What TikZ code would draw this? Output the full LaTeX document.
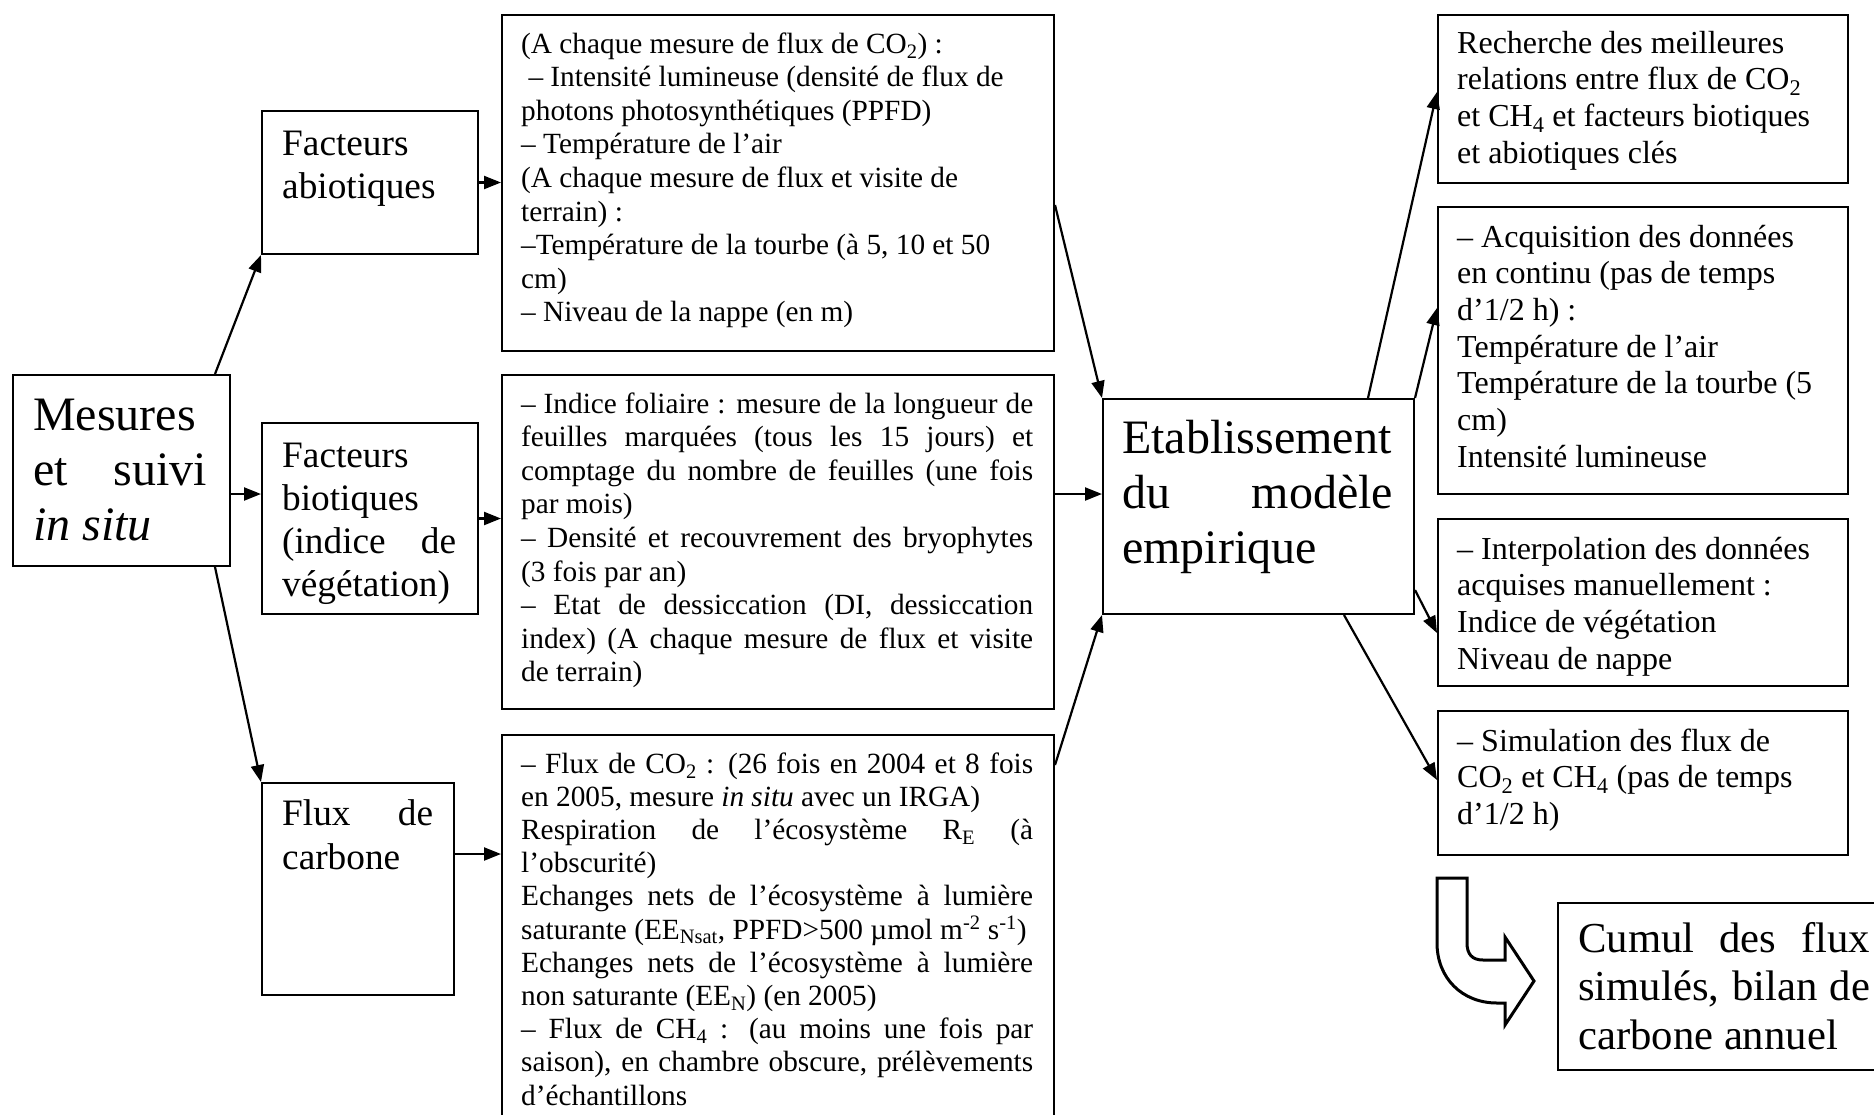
\documentclass[tikz,border=0pt]{standalone}
\usepackage{fontspec}
\setmainfont{Liberation Serif}
\usetikzlibrary{arrows.meta}
\newcommand\J[1]{\makebox[\linewidth][s]{#1}}
\newcommand\fs[2]{\fontsize{#1pt}{#2pt}\selectfont}
\begin{document}
\begin{tikzpicture}[x=1pt,y=-1pt,
  box/.style={draw, line width=2pt, inner sep=0pt, anchor=north west, rectangle},
  txt/.style={inner sep=0pt, anchor=base west},
  arr/.style={line width=2.2pt, -{Triangle[length=17pt,width=13pt]}}]
\useasboundingbox (0,0) rectangle (1874,1114);
\fill[white] (0,0) rectangle (1874,1114);

% boxes
\node[box, minimum width=217pt, minimum height=191pt] (mes) at (12,374) {};
\node[box, minimum width=216pt, minimum height=143pt] (fab) at (261,110) {};
\node[box, minimum width=216pt, minimum height=191pt] (fbio) at (261,422) {};
\node[box, minimum width=192pt, minimum height=212pt] (fcarb) at (261,782) {};
\node[box, minimum width=552pt, minimum height=336pt] (abio) at (501,14) {};
\node[box, minimum width=552pt, minimum height=334pt] (bio) at (501,374) {};
\node[box, minimum width=552pt, minimum height=400pt] (flux) at (501,734) {};
\node[box, minimum width=311pt, minimum height=215pt] (etab) at (1102,398) {};
\node[box, minimum width=410pt, minimum height=168pt] (rech) at (1437,14) {};
\node[box, minimum width=410pt, minimum height=287pt] (acq) at (1437,206) {};
\node[box, minimum width=410pt, minimum height=167pt] (interp) at (1437,518) {};
\node[box, minimum width=410pt, minimum height=144pt] (sim) at (1437,710) {};
\node[box, minimum width=340pt, minimum height=167pt] (cumul) at (1557,902) {};

% texts
\node[txt] (mes-t) at ([shift={(21pt,-56pt)}]mes.north west)
  {\parbox[t]{174pt}{\fs{48}{55}Mesures\\\J{et suivi}\\\textit{in situ}}};
\node[txt] (fab-t) at ([shift={(21pt,-45pt)}]fab.north west)
  {\parbox[t]{174pt}{\fs{37.3}{43.3}Facteurs\\abiotiques}};
\node[txt] (fbio-t) at ([shift={(21pt,-45pt)}]fbio.north west)
  {\parbox[t]{174pt}{\fs{37.3}{43.3}Facteurs\\biotiques\\\J{(indice de}\\végétation)}};
\node[txt] (fcarb-t) at ([shift={(21pt,-43pt)}]fcarb.north west)
  {\parbox[t]{151pt}{\fs{37.3}{44}\J{Flux de}\\carbone}};
\node[txt] (abio-t) at ([shift={(20pt,-39pt)}]abio.north west)
  {\parbox[t]{512pt}{\fs{29.3}{33.6}(A chaque mesure de flux de CO\textsubscript{2}) :\\
\hspace*{0.25em}– Intensité lumineuse (densité de flux de\\
photons photosynthétiques (PPFD)\\
– Température de l’air\\
(A chaque mesure de flux et visite de\\
terrain) :\\
–Température de la tourbe (à 5, 10 et 50\\
cm)\\
– Niveau de la nappe (en m)}};
\node[txt] (bio-t) at ([shift={(20pt,-39pt)}]bio.north west)
  {\parbox[t]{512pt}{\fs{29.3}{33.6}\J{– Indice foliaire : mesure de la longueur de}\\
\J{feuilles marquées (tous les 15 jours) et}\\
\J{comptage du nombre de feuilles (une fois}\\
par mois)\\
\J{– Densité et recouvrement des bryophytes}\\
(3 fois par an)\\
\J{– Etat de dessiccation (DI, dessiccation}\\
\J{index) (A chaque mesure de flux et visite}\\
de terrain)}};
\node[txt] (flux-t) at ([shift={(20pt,-39pt)}]flux.north west)
  {\parbox[t]{512pt}{\fs{29.3}{33.2}\J{– Flux de CO\textsubscript{2} : (26 fois en 2004 et 8 fois}\\
en 2005, mesure \textit{in situ} avec un IRGA)\\
\J{Respiration de l’écosystème R\textsubscript{E} (à}\\
l’obscurité)\\
\J{Echanges nets de l’écosystème à lumière}\\
saturante (EE\textsubscript{Nsat}, PPFD>500 µmol m\textsuperscript{-2} s\textsuperscript{-1})\\
\J{Echanges nets de l’écosystème à lumière}\\
non saturante (EE\textsubscript{N}) (en 2005)\\
\J{– Flux de CH\textsubscript{4} : (au moins une fois par}\\
\J{saison), en chambre obscure, prélèvements}\\
d’échantillons}};
\node[txt] (etab-t) at ([shift={(20pt,-55pt)}]etab.north west)
  {\parbox[t]{271pt}{\fs{48}{55}Etablissement\\\J{du modèle}\\empirique}};
\node[txt] (rech-t) at ([shift={(20pt,-39pt)}]rech.north west)
  {\parbox[t]{380pt}{\fs{32}{36.7}Recherche des meilleures\\
relations entre flux de CO\textsubscript{2}\\
et CH\textsubscript{4} et facteurs biotiques\\
et abiotiques clés}};
\node[txt] (acq-t) at ([shift={(20pt,-41pt)}]acq.north west)
  {\parbox[t]{380pt}{\fs{32}{36.7}– Acquisition des données\\
en continu (pas de temps\\
d’1/2 h) :\\
Température de l’air\\
Température de la tourbe (5\\
cm)\\
Intensité lumineuse}};
\node[txt] (interp-t) at ([shift={(20pt,-41pt)}]interp.north west)
  {\parbox[t]{380pt}{\fs{32}{36.7}– Interpolation des données\\
acquises manuellement :\\
Indice de végétation\\
Niveau de nappe}};
\node[txt] (sim-t) at ([shift={(20pt,-41pt)}]sim.north west)
  {\parbox[t]{380pt}{\fs{32}{36.7}– Simulation des flux de\\
CO\textsubscript{2} et CH\textsubscript{4} (pas de temps\\
d’1/2 h)}};
\node[txt] (cumul-t) at ([shift={(21pt,-50pt)}]cumul.north west)
  {\parbox[t]{292pt}{\fs{42.7}{48.5}\J{Cumul des flux}\\\J{simulés, bilan de}\\carbone annuel}};

% connectors
\draw[arr] ([xshift=-16pt]mes.north east) -- (fab.south west);
\draw[arr] (mes.east |- 0,494) -- (fbio.west |- 0,494);
\draw[arr] ([xshift=-16pt]mes.south east) -- (fcarb.north west);
\draw[arr] (fab.east) -- (abio.west |- fab.east);
\draw[arr] (fbio.east) -- (bio.west |- fbio.east);
\draw[arr] (fcarb.east |- 0,854) -- (flux.west |- 0,854);
\draw[arr] (abio.east |- 0,205) -- (etab.north west);
\draw[arr] (bio.east |- 0,494) -- (etab.west |- 0,494);
\draw[arr] (flux.east |- 0,765) -- (etab.south west);
\draw[arr] ([xshift=-47pt]etab.north east) -- (rech.west |- 0,92);
\draw[arr] (etab.north east) -- (acq.west |- 0,308);
\draw[arr] (etab.east |- 0,590) -- (interp.west |- 0,633);
\draw[arr] ([xshift=-71pt]etab.south east) -- (sim.west |- 0,780);

% big curved arrow
\draw[line width=3pt, line join=miter, fill=white]
  (1437,878) -- (1467,878) -- (1467,943)
  .. controls (1467,954) and (1472,960) .. (1483,960)
  -- (1505,960) -- (1505,937) -- (1534,981) -- (1505,1025) -- (1505,1003) -- (1497,1003)
  .. controls (1462,1003) and (1437,978) .. (1437,943) -- cycle;
\end{tikzpicture}
\end{document}
